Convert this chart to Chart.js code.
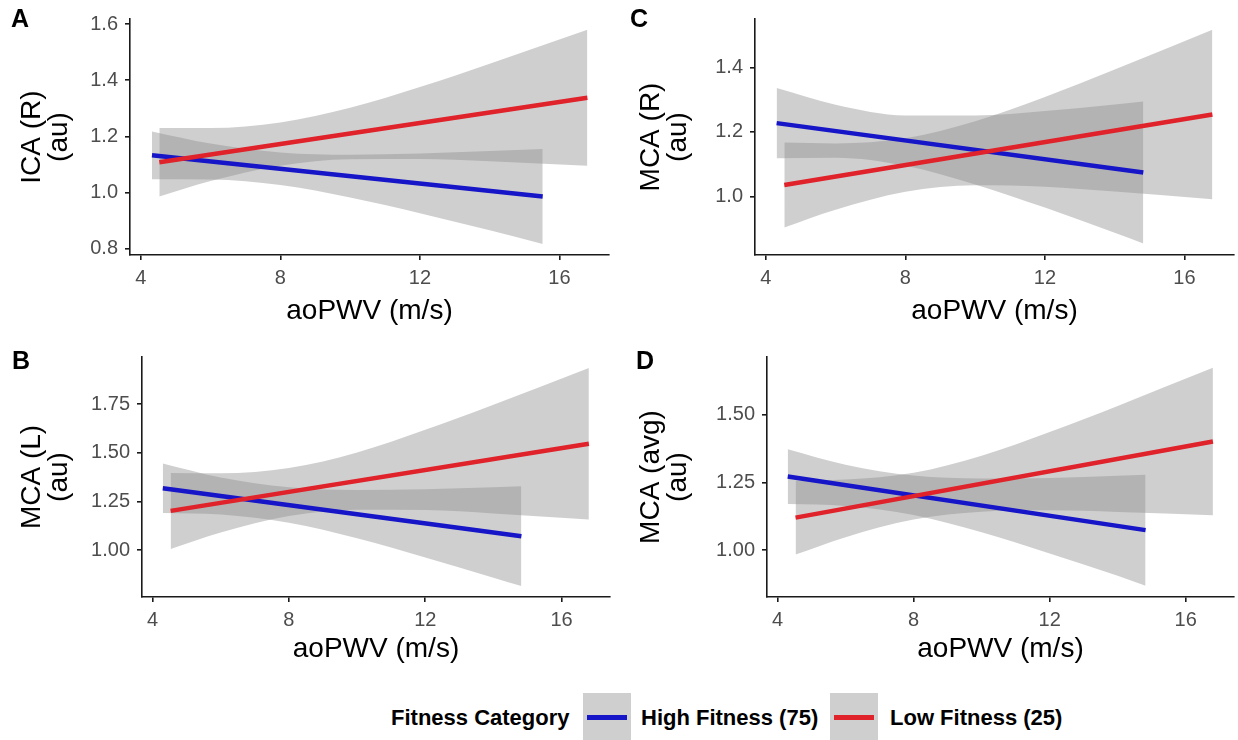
<!DOCTYPE html>
<html>
<head>
<meta charset="utf-8">
<title>Fitness category and cerebrovascular measures vs aoPWV</title>
<script src="https://cdn.jsdelivr.net/npm/chart.js@4.4.1/dist/chart.umd.min.js"></script>
<style>
  html, body { margin: 0; padding: 0; background: #fff; }
  #fig { position: relative; width: 1238px; height: 740px; overflow: hidden;
         font-family: "Liberation Sans", Arial, Helvetica, sans-serif; }
  #fig canvas { position: absolute; }
  .tag { position: absolute; font-weight: bold; font-size: 25px; line-height: 1; color: #000; }
  .leg { position: absolute; font-weight: bold; font-size: 22px; line-height: 1; color: #000; white-space: nowrap; }
  .key { position: absolute; background: rgba(140,140,140,0.42); }
  .key i { position: absolute; left: 4px; right: 4px; top: 22px; height: 5px; }
</style>
</head>
<body>
<div id="fig"></div>
<script>
// ---- shared axis values ----
const xTickLabels = ['4', '8', '12', '16'];
const xTitle = 'aoPWV (m/s)';
const xLimits = [3.69, 17.42];

const groupNames = ['High Fitness (75)', 'Low Fitness (25)'];
const legendTitle = 'Fitness Category';

// ---- A: ICA (R) ----
const yTicksA = ['0.8', '1.0', '1.2', '1.4', '1.6'];
const yLimitsA = [0.778, 1.618];
const highLineXA = [4.32, 15.52];
const highLineYA = [1.133, 0.986];
const highBandXA = [4.32, 6, 8, 10, 12, 14, 15.52];
const highUpperA = [1.218, 1.175, 1.143, 1.135, 1.139, 1.148, 1.155];
const highLowerA = [1.048, 1.047, 1.027, 0.983, 0.927, 0.866, 0.817];
const lowLineXA = [4.53, 16.8];
const lowLineYA = [1.108, 1.338];
const lowBandXA = [4.53, 6, 8, 10, 12, 14, 16.8];
const lowUpperA = [1.230, 1.230, 1.250, 1.302, 1.376, 1.459, 1.580];
const lowLowerA = [0.986, 1.041, 1.096, 1.119, 1.120, 1.112, 1.096];

// ---- B: MCA (L) ----
const yTicksB = ['1.00', '1.25', '1.50', '1.75'];
const yLimitsB = [0.760, 1.992];
const highLineXB = [4.3, 14.82];
const highLineYB = [1.318, 1.072];
const highBandXB = [4.3, 6, 8, 10, 12, 14, 14.82];
const highUpperB = [1.445, 1.373, 1.323, 1.309, 1.313, 1.323, 1.328];
const highLowerB = [1.191, 1.183, 1.141, 1.061, 0.963, 0.859, 0.816];
const lowLineXB = [4.53, 16.8];
const lowLineYB = [1.202, 1.547];
const lowBandXB = [4.53, 6, 8, 10, 12, 14, 16.8];
const lowUpperB = [1.397, 1.395, 1.422, 1.502, 1.618, 1.747, 1.936];
const lowLowerB = [1.007, 1.091, 1.176, 1.208, 1.206, 1.189, 1.158];

// ---- C: MCA (R) ----
const yTicksC = ['1.0', '1.2', '1.4'];
const yLimitsC = [0.818, 1.550];
const highLineXC = [4.31, 14.82];
const highLineYC = [1.227, 1.074];
const highBandXC = [4.31, 6, 8, 10, 12, 14, 14.82];
const highUpperC = [1.336, 1.284, 1.251, 1.251, 1.265, 1.285, 1.294];
const highLowerC = [1.118, 1.120, 1.095, 1.037, 0.965, 0.887, 0.854];
const lowLineXC = [4.53, 16.8];
const lowLineYC = [1.035, 1.254];
const lowBandXC = [4.53, 6, 8, 10, 12, 14, 16.8];
const lowUpperC = [1.167, 1.164, 1.180, 1.233, 1.308, 1.393, 1.517];
const lowLowerC = [0.903, 0.958, 1.014, 1.034, 1.030, 1.015, 0.991];

// ---- D: MCA (avg) ----
const yTicksD = ['1.00', '1.25', '1.50'];
const yLimitsD = [0.828, 1.711];
const highLineXD = [4.3, 14.82];
const highLineYD = [1.271, 1.074];
const highBandXD = [4.3, 6, 8, 10, 12, 14, 14.82];
const highUpperD = [1.372, 1.315, 1.275, 1.264, 1.266, 1.274, 1.278];
const highLowerD = [1.170, 1.163, 1.130, 1.066, 0.988, 0.906, 0.869];
const lowLineXD = [4.53, 16.8];
const lowLineYD = [1.120, 1.400];
const lowBandXD = [4.53, 6, 8, 10, 12, 14, 16.8];
const lowUpperD = [1.256, 1.260, 1.285, 1.348, 1.435, 1.531, 1.671];
const lowLowerD = [0.984, 1.048, 1.113, 1.142, 1.147, 1.141, 1.129];

// ---- styling ----
const BLUE = '#1616c8';
const RED = '#e0222b';
const RIBBON = 'rgba(140,140,140,0.42)';
const AXIS = '#1a1a1a';
const TICK = '#4d4d4d';
const FONT = '"Liberation Sans", Arial, Helvetica, sans-serif';

Chart.defaults.font.family = FONT;

const pts = (xs, ys) => xs.map((x, i) => ({ x: x, y: ys[i] }));

function lineSet(xs, ys, color) {
  return { data: pts(xs, ys), borderColor: color, borderWidth: 4.5, borderCapStyle: 'butt',
           pointRadius: 0, fill: false, tension: 0 };
}
function bandSet(xs, ys, toNext) {
  return { data: pts(xs, ys), borderWidth: 0, borderColor: 'rgba(0,0,0,0)', pointRadius: 0,
           backgroundColor: RIBBON, fill: toNext ? '+1' : false, cubicInterpolationMode: 'monotone' };
}

const fig = document.getElementById('fig');

function makePanel(cfg) {
  const cv = document.createElement('canvas');
  cv.width = cfg.box.w; cv.height = cfg.box.h;
  cv.style.left = cfg.box.left + 'px'; cv.style.top = cfg.box.top + 'px';
  cv.style.width = cfg.box.w + 'px'; cv.style.height = cfg.box.h + 'px';
  fig.appendChild(cv);

  const tag = document.createElement('div');
  tag.className = 'tag';
  tag.textContent = cfg.tag;
  tag.style.left = cfg.tagPos[0] + 'px'; tag.style.top = cfg.tagPos[1] + 'px';
  fig.appendChild(tag);

  const [pl, pt, pr, pb] = cfg.plot;
  const yVals = cfg.yTicks.map(Number);
  const xVals = xTickLabels.map(Number);

  new Chart(cv, {
    type: 'line',
    data: {
      datasets: [
        lineSet(cfg.low.lx, cfg.low.ly, RED),
        lineSet(cfg.high.lx, cfg.high.ly, BLUE),
        bandSet(cfg.low.bx, cfg.low.up, true),
        bandSet(cfg.low.bx, cfg.low.lo, false),
        bandSet(cfg.high.bx, cfg.high.up, true),
        bandSet(cfg.high.bx, cfg.high.lo, false)
      ]
    },
    options: {
      responsive: false,
      animation: false,
      devicePixelRatio: 1,
      events: [],
      layout: { padding: { left: 0, top: pt, right: cfg.box.w - pr, bottom: 0 } },
      plugins: { legend: { display: false }, tooltip: { enabled: false }, title: { display: false } },
      scales: {
        x: {
          type: 'linear', min: xLimits[0], max: xLimits[1],
          afterBuildTicks: s => { s.ticks = xVals.map(v => ({ value: v })); },
          afterFit: s => { s.height = cfg.box.h - pb; },
          ticks: { callback: (v, i) => xTickLabels[i], color: TICK, font: { size: 20 },
                   padding: 6, maxRotation: 0, autoSkip: false },
          grid: { display: true, drawOnChartArea: false, drawTicks: true, tickLength: 5,
                  color: AXIS, lineWidth: 1.6 },
          border: { display: true, color: AXIS, width: 1.6 },
          title: { display: true, text: xTitle, color: '#000', font: { size: 28, lineHeight: 1.1 },
                   padding: { top: 0, bottom: cfg.xTitlePad } }
        },
        y: {
          type: 'linear', min: cfg.yLimits[0], max: cfg.yLimits[1],
          afterBuildTicks: s => { s.ticks = yVals.map(v => ({ value: v })); },
          afterFit: s => { s.width = pl; },
          ticks: { callback: (v, i) => cfg.yTicks[i], color: TICK, font: { size: 20 },
                   padding: 7, autoSkip: false },
          grid: { display: true, drawOnChartArea: false, drawTicks: true, tickLength: 5,
                  color: AXIS, lineWidth: 1.6 },
          border: { display: true, color: AXIS, width: 1.6 },
          title: { display: true, text: cfg.yTitle, color: '#000', font: { size: 28, lineHeight: 0.95 },
                   padding: { top: 19, bottom: 0 } }
        }
      }
    }
  });
}

makePanel({
  tag: 'A', tagPos: [11, 6],
  box: { left: 0, top: 0, w: 619, h: 330 }, plot: [130, 15, 609, 255], xTitlePad: 3,
  yTicks: yTicksA, yLimits: yLimitsA, yTitle: ['ICA (R)', '(au)'],
  high: { lx: highLineXA, ly: highLineYA, bx: highBandXA, up: highUpperA, lo: highLowerA },
  low: { lx: lowLineXA, ly: lowLineYA, bx: lowBandXA, up: lowUpperA, lo: lowLowerA }
});
makePanel({
  tag: 'C', tagPos: [630, 6],
  box: { left: 619, top: 0, w: 619, h: 330 }, plot: [136, 13, 615, 255], xTitlePad: 3,
  yTicks: yTicksC, yLimits: yLimitsC, yTitle: ['MCA (R)', '(au)'],
  high: { lx: highLineXC, ly: highLineYC, bx: highBandXC, up: highUpperC, lo: highLowerC },
  low: { lx: lowLineXC, ly: lowLineYC, bx: lowBandXC, up: lowUpperC, lo: lowLowerC }
});
makePanel({
  tag: 'B', tagPos: [12, 348],
  box: { left: 0, top: 330, w: 619, h: 350 }, plot: [142, 27, 610, 267], xTitlePad: 15,
  yTicks: yTicksB, yLimits: yLimitsB, yTitle: ['MCA (L)', '(au)'],
  high: { lx: highLineXB, ly: highLineYB, bx: highBandXB, up: highUpperB, lo: highLowerB },
  low: { lx: lowLineXB, ly: lowLineYB, bx: lowBandXB, up: lowUpperB, lo: lowLowerB }
});
makePanel({
  tag: 'D', tagPos: [636, 348],
  box: { left: 619, top: 330, w: 619, h: 350 }, plot: [148, 27, 615, 267], xTitlePad: 15,
  yTicks: yTicksD, yLimits: yLimitsD, yTitle: ['MCA (avg)', '(au)'],
  high: { lx: highLineXD, ly: highLineYD, bx: highBandXD, up: highUpperD, lo: highLowerD },
  low: { lx: lowLineXD, ly: lowLineYD, bx: lowBandXD, up: lowUpperD, lo: lowLowerD }
});

// ---- shared legend along the bottom ----
function legText(txt, left) {
  const d = document.createElement('div');
  d.className = 'leg'; d.textContent = txt;
  d.style.left = left + 'px'; d.style.top = '707px';
  fig.appendChild(d);
}
function legKey(left, width, color) {
  const k = document.createElement('div');
  k.className = 'key';
  k.style.left = left + 'px'; k.style.top = '693px';
  k.style.width = width + 'px'; k.style.height = '47px';
  const ln = document.createElement('i');
  ln.style.background = color;
  k.appendChild(ln);
  fig.appendChild(k);
}
legText(legendTitle, 391);
legKey(583, 48, BLUE);
legText(groupNames[0], 641);
legKey(830, 48, RED);
legText(groupNames[1], 890);
</script>
</body>
</html>
